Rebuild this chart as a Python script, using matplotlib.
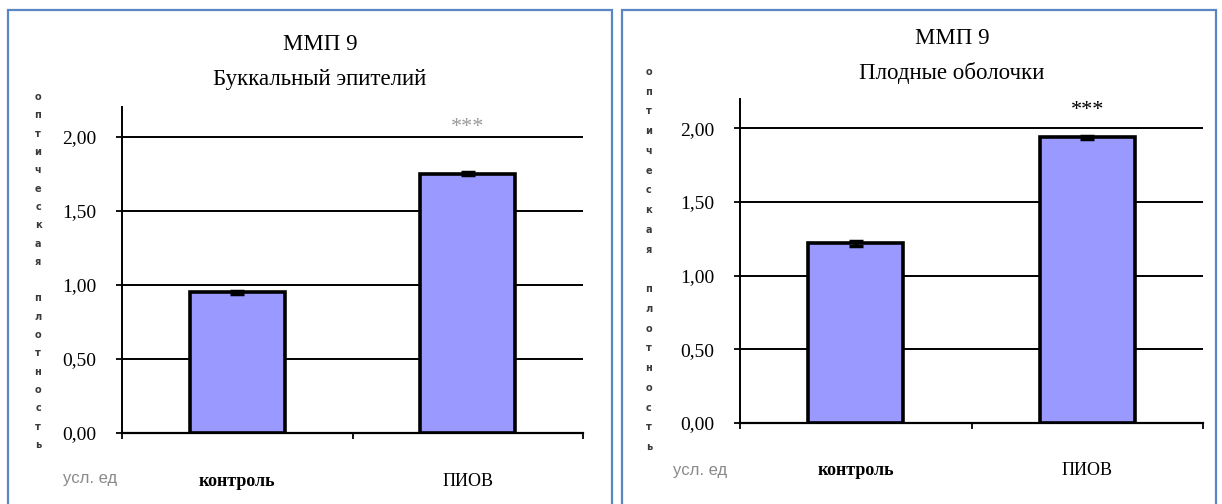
import matplotlib
matplotlib.use("Agg")
import matplotlib.pyplot as plt
from matplotlib.patches import Rectangle

# data
categories = ["контроль", "ПИОВ"]
buccal_vals = [0.95, 1.75]
buccal_err = [0.01, 0.01]
membr_vals = [1.22, 1.94]
membr_err = [0.015, 0.01]
yticks = [0.0, 0.5, 1.0, 1.5, 2.0]
ytick_labels = ["0,00", "0,50", "1,00", "1,50", "2,00"]
ylabel_letters = list("оптическая плотность")
unit_label = "усл. ед"
title1 = ["ММП 9", "Буккальный эпителий"]
title2 = ["ММП 9", "Плодные оболочки"]

W, H = 1222, 504
SERIF = "Liberation Serif"
BAR = "#9999ff"

fig = plt.figure(figsize=(W / 100, H / 100), dpi=100)


def fx(x):
    return x / W


def fy(y):
    return 1 - y / H


def panel(box, ax_px, vals, errs, title, title_xy, star_y, star_col,
          letters_x, letters_y, unit_xy, label_pad):
    # frame around the panel
    x0, y0, x1, y1 = box
    fig.patches.append(Rectangle((fx(x0), fy(y1)), fx(x1 - x0), (y1 - y0) / H,
                                 transform=fig.transFigure, fill=False,
                                 edgecolor="#5b86c4", lw=1.6))
    l, t, r, b = ax_px
    ax = fig.add_axes([fx(l), fy(b), fx(r - l), (b - t) / H])
    x = [0.5, 1.5]
    ax.bar(x, vals, width=0.41, color=BAR, edgecolor="black", linewidth=2.6, zorder=3)
    ax.errorbar(x, vals, yerr=errs, fmt="none", ecolor="black", elinewidth=2.5,
                capsize=5, capthick=2.5, zorder=4)
    ax.set_xlim(0, 2)
    ax.set_ylim(0, 2.2)
    for v in yticks[1:]:
        ax.axhline(v, color="black", lw=1.4, zorder=1)
    ax.set_yticks(yticks)
    ax.set_yticklabels(ytick_labels, fontfamily=SERIF, fontsize=14)
    ax.set_xticks([0, 1, 2])
    ax.set_xticklabels([])
    ax.set_xticks(x, minor=True)
    ax.set_xticklabels(categories, minor=True, fontfamily=SERIF, fontsize=13)
    ax.get_xticklabels(minor=True)[0].set_fontweight("bold")
    ax.tick_params(axis="x", which="minor", length=0, pad=label_pad)
    ax.tick_params(axis="x", which="major", direction="out", length=4, width=1.3)
    ax.tick_params(axis="y", direction="out", length=4, width=1.3, pad=14.5)
    for s in ("top", "right"):
        ax.spines[s].set_visible(False)
    ax.spines["left"].set_linewidth(1.4)
    ax.spines["bottom"].set_linewidth(1.6)
    ax.text(1.5, star_y, "***", ha="center", va="center", fontsize=16,
            fontfamily=SERIF, color=star_col)
    # two-line title
    for i, line in enumerate(title):
        fig.text(fx(title_xy[0]), fy(title_xy[1] + 35 * i), line,
                 ha="center", va="center", fontfamily=SERIF, fontsize=16.5)
    # stacked y-label letters
    ytop, ybot = letters_y
    step = (ybot - ytop) / (len(ylabel_letters) - 1)
    for i, ch in enumerate(ylabel_letters):
        fig.text(fx(letters_x), fy(ytop + step * i), ch, ha="center", va="center",
                 fontsize=7, fontweight="bold", color="#3a3a3a", fontfamily="DejaVu Sans")
    fig.text(fx(unit_xy[0]), fy(unit_xy[1]), unit_label, ha="center", va="center",
             fontsize=12, color="#8a8a8a",
             fontfamily=["Liberation Sans Narrow", "Liberation Sans"])
    return ax


panel((8, 10, 612, 506), (122, 107, 583, 433), buccal_vals, buccal_err, title1,
      (320, 45), 2.06, "#9a9a9a", 38, (97, 445), (90, 479), 29)
panel((622, 10, 1216, 506), (740, 99, 1203, 423), membr_vals, membr_err, title2,
      (952, 38), 2.12, "black", 649, (72, 447), (700, 471), 28)

fig.savefig("out.png", dpi=100)
